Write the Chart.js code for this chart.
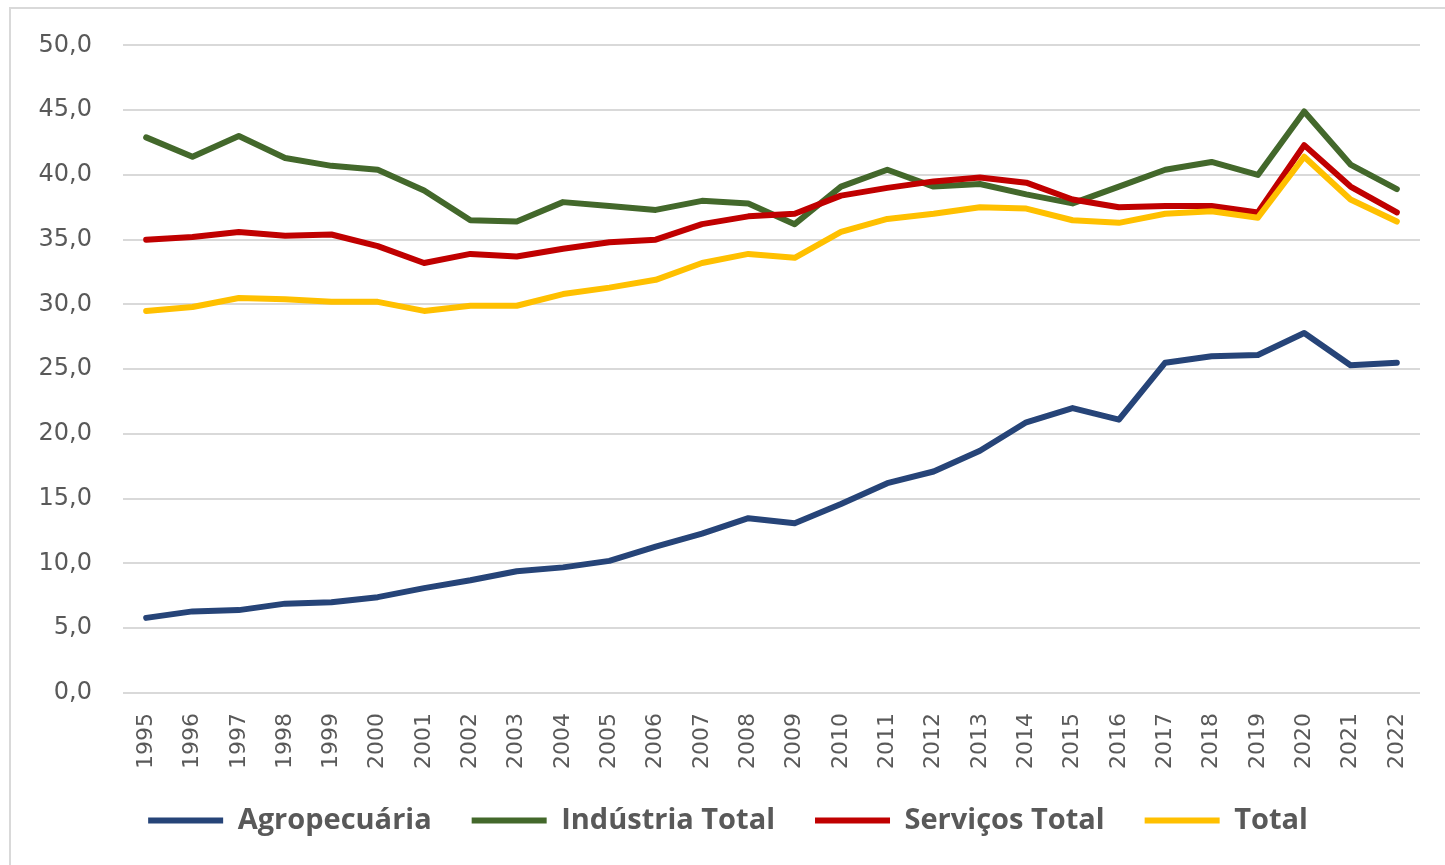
<!DOCTYPE html>
<html>
<head>
<meta charset="utf-8">
<script src="https://cdn.jsdelivr.net/npm/chart.js@4.4.1/dist/chart.umd.min.js"></script>
<style>
  html, body { margin: 0; padding: 0; background: #fff; overflow: hidden; }
  #frame {
    position: absolute; left: 9px; top: 7px; width: 1500px; height: 900px;
    border-left: 2px solid #d9d9d9; border-top: 2px solid #d9d9d9;
  }
  #wrap { position: absolute; left: 0; top: 0; width: 1445px; height: 865px; }
</style>
</head>
<body>
<div id="frame"></div>
<div id="wrap"><canvas id="chart" width="1445" height="865"></canvas></div>
<script>
const years = ['1995', '1996', '1997', '1998', '1999', '2000', '2001', '2002', '2003', '2004',
  '2005', '2006', '2007', '2008', '2009', '2010', '2011', '2012', '2013', '2014',
  '2015', '2016', '2017', '2018', '2019', '2020', '2021', '2022'];

const agropecuaria = [5.8, 6.3, 6.4, 6.9, 7.0, 7.4, 8.1, 8.7, 9.4, 9.7,
  10.2, 11.3, 12.3, 13.5, 13.1, 14.6, 16.2, 17.1, 18.7, 20.9,
  22.0, 21.1, 25.5, 26.0, 26.1, 27.8, 25.3, 25.5];

const industria = [42.9, 41.4, 43.0, 41.3, 40.7, 40.4, 38.8, 36.5, 36.4, 37.9,
  37.6, 37.3, 38.0, 37.8, 36.2, 39.1, 40.4, 39.1, 39.3, 38.5,
  37.8, 39.1, 40.4, 41.0, 40.0, 44.9, 40.8, 38.9];

const servicos = [35.0, 35.2, 35.6, 35.3, 35.4, 34.5, 33.2, 33.9, 33.7, 34.3,
  34.8, 35.0, 36.2, 36.8, 37.0, 38.4, 39.0, 39.5, 39.8, 39.4,
  38.1, 37.5, 37.6, 37.6, 37.1, 42.3, 39.1, 37.1];

const total = [29.5, 29.8, 30.5, 30.4, 30.2, 30.2, 29.5, 29.9, 29.9, 30.8,
  31.3, 31.9, 33.2, 33.9, 33.6, 35.6, 36.6, 37.0, 37.5, 37.4,
  36.5, 36.3, 37.0, 37.2, 36.7, 41.4, 38.1, 36.4];

const seriesNames = ['Agropecuária', 'Indústria Total', 'Serviços Total', 'Total'];
const seriesColors = ['#264478', '#43682b', '#c00000', '#ffc000'];

const yMin = 0;
const yMax = 50;
const yStep = 5;

const textColor = '#595959';
const gridColor = '#d9d9d9';

// patch legend size/position so the layout matches the original
const legendFit = {
  id: 'legendFit',
  beforeLayout(chart) {
    const lg = chart.legend;
    if (!lg || lg._patched) return;
    const fit = lg.fit;
    lg.fit = function () {
      fit.call(this);
      this.height = 72;
    };
    const draw = lg.draw;
    lg.draw = function () {
      const ctx = this.ctx;
      ctx.save();
      ctx.translate(18, -27);
      draw.call(this);
      ctx.restore();
    };
    lg._patched = true;
  }
};

const allSeries = [agropecuaria, industria, servicos, total];

const ctx = document.getElementById('chart').getContext('2d');
new Chart(ctx, {
  type: 'line',
  data: {
    labels: years,
    datasets: allSeries.map((values, i) => ({
      label: seriesNames[i],
      data: values,
      borderColor: seriesColors[i],
      backgroundColor: seriesColors[i],
      borderWidth: 6,
      pointRadius: 0,
      tension: 0,
      borderCapStyle: 'round',
      borderJoinStyle: 'round',
      order: allSeries.length - 1 - i
    }))
  },
  options: {
    responsive: false,
    animation: false,
    layout: { padding: { top: 44, right: 25, left: 0, bottom: 0 } },
    scales: {
      x: {
        offset: true,
        grid: { display: false },
        border: { display: false },
        ticks: {
          color: textColor,
          font: { family: 'DejaVu Sans', size: 22 },
          minRotation: 90,
          maxRotation: 90,
          autoSkip: false,
          padding: 12
        },
        afterFit(scale) { scale.height = 100; }
      },
      y: {
        min: yMin,
        max: yMax,
        grid: { color: gridColor, lineWidth: 2, drawTicks: false },
        border: { display: false },
        ticks: {
          stepSize: yStep,
          color: textColor,
          font: { family: 'DejaVu Sans', size: 24 },
          padding: 31,
          callback: (v) => v.toFixed(1).replace('.', ',')
        },
        afterFit(scale) { scale.width = 123; }
      }
    },
    plugins: {
      legend: {
        position: 'bottom',
        labels: {
          color: textColor,
          font: { family: 'Open Sans', size: 29, weight: 'bold' },
          boxWidth: 75,
          boxHeight: 6,
          padding: 40,
          useBorderRadius: true,
          borderRadius: 3,
          sort: (a, b) => a.datasetIndex - b.datasetIndex,
          generateLabels(chart) {
            return chart.data.datasets.map((ds, i) => ({
              text: ds.label,
              fillStyle: ds.borderColor,
              strokeStyle: ds.borderColor,
              lineWidth: 0,
              fontColor: textColor,
              hidden: false,
              datasetIndex: i
            }));
          }
        }
      },
      tooltip: { enabled: false }
    }
  },
  plugins: [legendFit]
});
</script>
</body>
</html>
